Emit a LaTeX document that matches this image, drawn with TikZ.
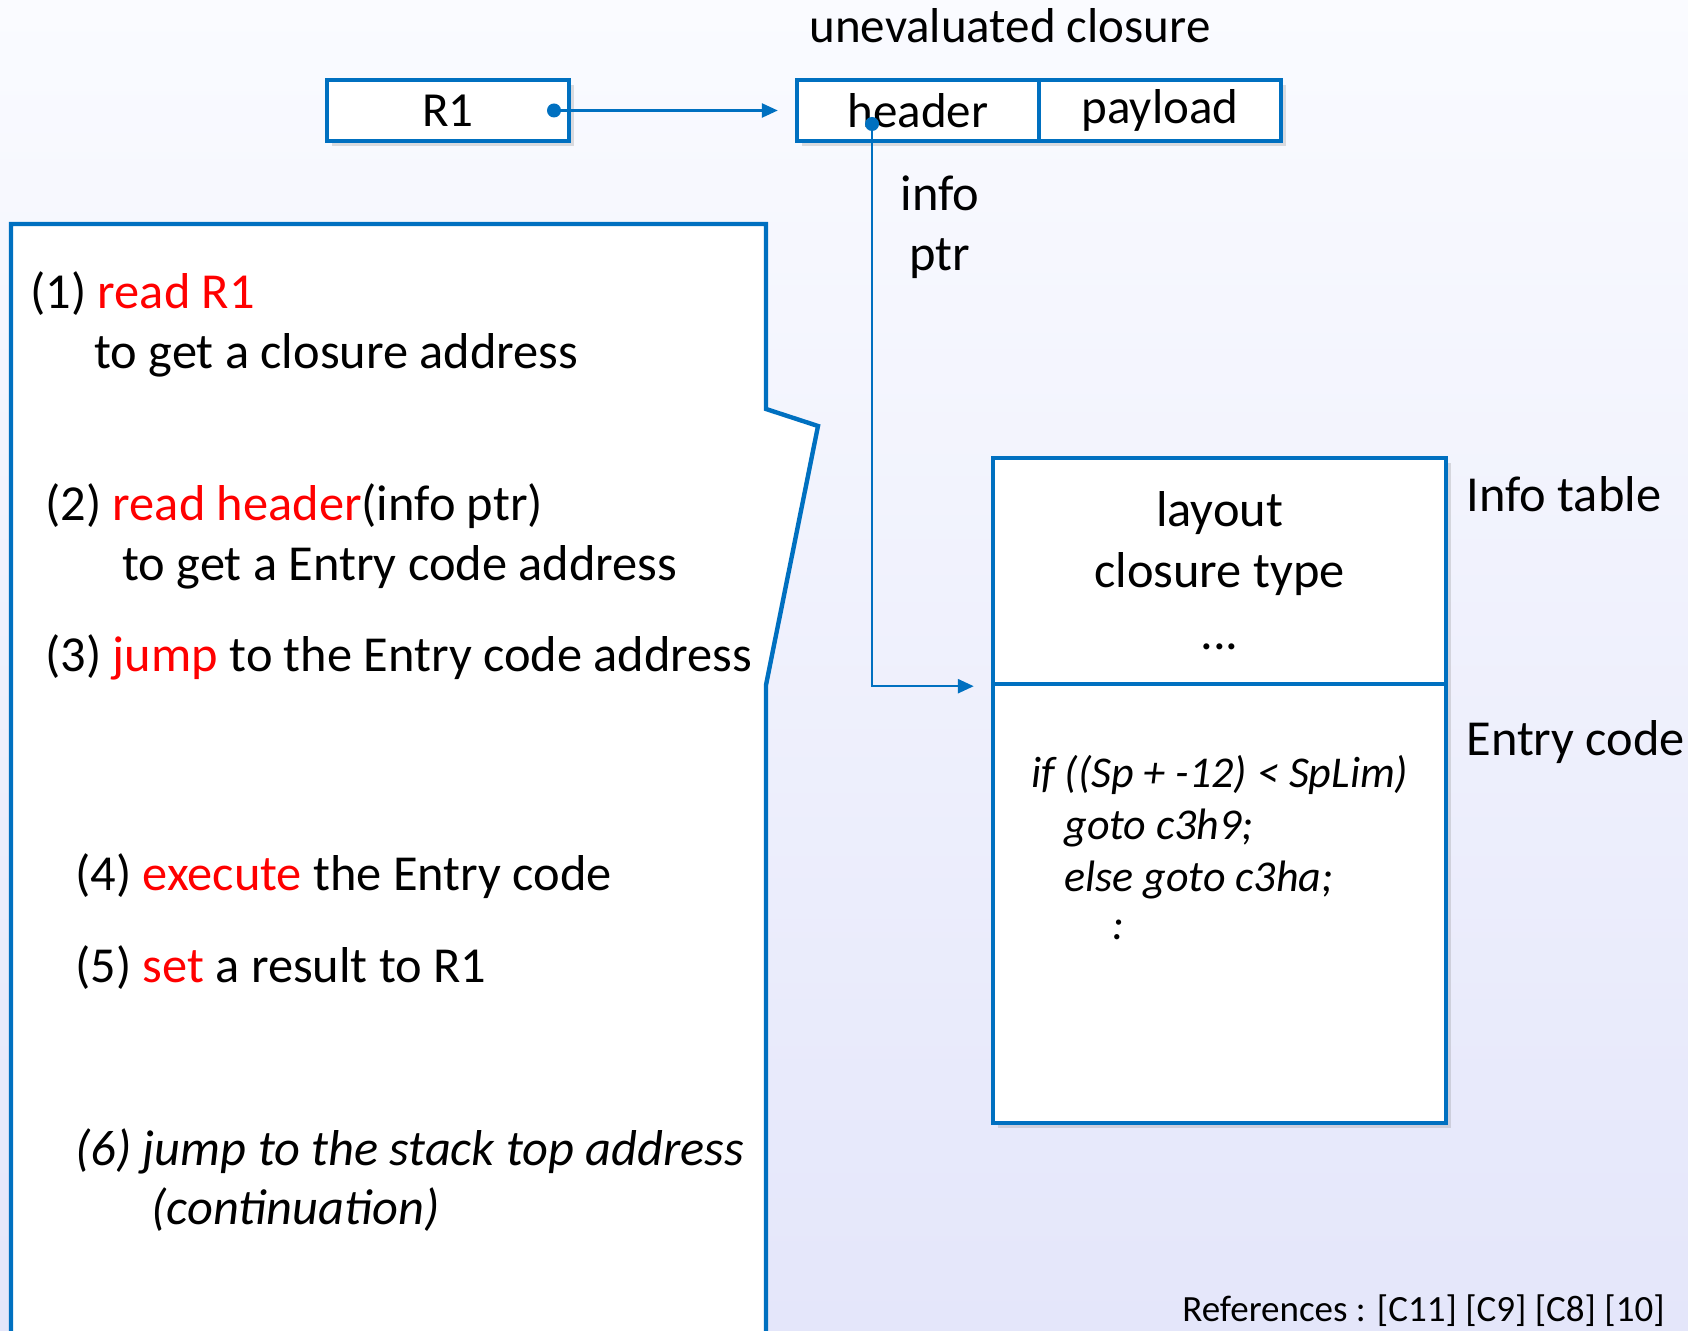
\documentclass[tikz,border=0pt]{standalone}
\usepackage{fontspec}
\setmainfont{Carlito}
\usetikzlibrary{arrows.meta,shadows}
\definecolor{pblue}{RGB}{0,112,192}
\definecolor{bgtop}{RGB}{250,251,255}
\definecolor{bgbot}{RGB}{228,230,250}
\definecolor{pred}{RGB}{255,0,0}
\begin{document}
\begin{tikzpicture}[x=0.5pt,y=-0.5pt,
  box/.style={draw=pblue,line width=2.2pt,fill=white,inner sep=0pt,
    font=\fontsize{24.5}{29}\selectfont,
    drop shadow={shadow xshift=2.5pt,shadow yshift=-2.5pt,opacity=0.25}},
  smallbox/.style={box,minimum width=121pt,minimum height=30.5pt},
  txt/.style={inner sep=0pt,font=\fontsize{25.2}{29}\selectfont},
  itxt/.style={inner sep=0pt,font=\fontsize{25.2}{29}\selectfont\itshape},
  code/.style={inner sep=0pt,font=\fontsize{22}{26}\selectfont\itshape},
  dot/.style={circle,fill=pblue,inner sep=0pt,minimum size=7pt},
  link/.style={draw=pblue,line width=1.3pt},
  tip/.style={-{Triangle[length=8pt,width=7pt]}},
  leftbox/.style={draw=pblue,line width=2.2pt,fill=white}
]
\useasboundingbox (0,0) rectangle (1688,1331);
\shade[top color=bgtop,bottom color=bgbot] (0,0) rectangle (1688,1331);

% left panel
\draw[leftbox] (11,224) -- (766,224) -- (766,409) -- (818,426) -- (766,685) -- (766,1345) -- (11,1345) -- cycle;
\node[txt,anchor=base west] (s1) at (30,309) {(1) \textcolor{pred}{read R1}};
\node[txt,anchor=base west] (s1b) at (94,369) {to get a closure address};
\node[txt,anchor=base west] (s2) at (45,521) {(2) \textcolor{pred}{read header}(info ptr)};
\node[txt,anchor=base west] (s2b) at (122,581) {to get a Entry code address};
\node[txt,anchor=base west] (s3) at (45,672) {(3) \textcolor{pred}{jump} to the Entry code address};
\node[txt,anchor=base west] (s4) at (75,891) {(4) \textcolor{pred}{execute} the Entry code};
\node[txt,anchor=base west] (s5) at (75,982) {(5) \textcolor{pred}{set} a result to R1};
\node[itxt,anchor=base west] (s6) at (75,1165) {(6) jump to the stack top address};
\node[itxt,anchor=base west] (s6b) at (151,1224) {(continuation)};

% closure
\node[inner sep=0pt,font=\fontsize{24.5}{29}\selectfont,anchor=base] (uc) at (1010,43) {unevaluated closure};
\node[smallbox] (r1) at (448,110.5) {R1};
\node[smallbox] (hdr) at (918,110.5) {header};
\node[smallbox] (pay) at (1160,110.5) {payload};
\node[dot] (r1dot) at (554,110.5) {};

% info table / entry code
\node[box,minimum width=226.5pt,minimum height=113pt] (itab) at (1219.5,571) {};
\node[box,minimum width=226.5pt,minimum height=219.5pt] (ecode) at (1219.5,903.5) {};
\node[txt,anchor=base] (lay) at (1219.5,527) {layout};
\node[txt,anchor=base] (ctype) at (1219.5,588) {closure type};
\node[txt,anchor=base] (dots) at (1219.5,650) {...};
\node[code,anchor=base west] (c1) at (1031,788) {if ((Sp + -12) < SpLim)};
\node[code,anchor=base west] (c2) at (1064,840) {goto c3h9;};
\node[code,anchor=base west] (c3) at (1064,892) {else goto c3ha;};
\node[code,anchor=base west] (c4) at (1112,939) {:};
\node[txt,anchor=base west] (itl) at (1466,512) {Info table};
\node[txt,anchor=base west] (ecl) at (1466,756) {Entry code};

\node[txt,anchor=base] (info) at (940,211) {info};
\node[txt,anchor=base] (ptr) at (940,271) {ptr};

\node[dot] (hdot) at (872,124) {};
\draw[link,tip,shorten >=8.5pt] (r1dot) -- (hdr.west);
\draw[link,tip,shorten >=8.5pt] (hdot) |- (itab.south west);

\node[anchor=base west,inner sep=0pt,font=\fontsize{18.5}{20}\selectfont] (refs) at (1182,1321) {References : [C11] [C9] [C8] [10]};
\end{tikzpicture}
\end{document}
